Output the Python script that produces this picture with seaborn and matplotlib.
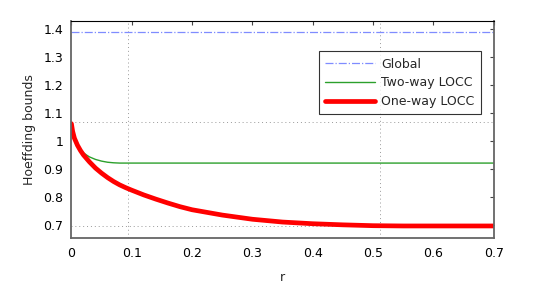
import numpy as np
import pandas as pd
import matplotlib
matplotlib.use('Agg')
import matplotlib.pyplot as plt
import seaborn as sns

# values
r_one = [0, 0.002, 0.005, 0.01, 0.015, 0.02, 0.03, 0.04, 0.05, 0.06, 0.07, 0.08, 0.09,
         0.1, 0.12, 0.14, 0.16, 0.18, 0.2, 0.25, 0.3, 0.35, 0.4, 0.45, 0.5, 0.55, 0.6, 0.7]
one_way = [1.062, 1.035, 1.01, 0.985, 0.966, 0.95, 0.925, 0.903, 0.885, 0.869, 0.855, 0.843, 0.833,
           0.824, 0.807, 0.792, 0.778, 0.765, 0.754, 0.735, 0.72, 0.71, 0.704, 0.7, 0.697, 0.696, 0.696, 0.696]
r_two = [0, 0.002, 0.005, 0.01, 0.015, 0.02, 0.025, 0.03, 0.04, 0.05, 0.06, 0.07, 0.08, 0.7]
two_way = [1.062, 1.035, 1.01, 0.987, 0.97, 0.958, 0.95, 0.943, 0.934, 0.928, 0.924, 0.922, 0.921, 0.921]
r_glob = [0, 0.7]
global_bound = [1.39, 1.39]

# dotted reference lines
ref_x = [0.093, 0.512]
ref_y = [1.067, 0.696]

sns.set_style('white')
plt.rcParams['font.family'] = ['DejaVu Sans']

fig = plt.figure(figsize=(5.45, 2.85), dpi=100)
ax = fig.add_axes([0.131, 0.164, 0.775, 0.761])

for xv in ref_x:
    ax.axvline(xv, color='#999999', ls=(0, (1, 3)), lw=0.7, zorder=0)
for yv in ref_y:
    ax.axhline(yv, color='#999999', ls=(0, (1, 3)), lw=0.7, zorder=0)

sns.lineplot(x=r_glob, y=global_bound, ax=ax, color='#7f8cff', lw=0.9,
             linestyle='-.', label='Global')
sns.lineplot(x=r_two, y=two_way, ax=ax, color='#2ca02c', lw=1.0,
             label='Two-way LOCC')
sns.lineplot(x=r_one, y=one_way, ax=ax, color='#ff0000', lw=3.4,
             label='One-way LOCC')

ax.set_xlim(0, 0.7)
ax.set_ylim(0.652, 1.428)
ax.set_xticks(np.arange(0, 0.71, 0.1))
ax.set_xticklabels(['0', '0.1', '0.2', '0.3', '0.4', '0.5', '0.6', '0.7'])
ax.set_yticks([0.7, 0.8, 0.9, 1.0, 1.1, 1.2, 1.3, 1.4])
ax.set_yticklabels(['0.7', '0.8', '0.9', '1', '1.1', '1.2', '1.3', '1.4'])
ax.tick_params(direction='in', length=3, width=0.8, colors='#444444',
               labelcolor='black', labelsize=9, top=True, right=True,
               pad=6)
ax.set_xlabel('r', fontsize=9, labelpad=8)
ax.set_ylabel('Hoeffding bounds', fontsize=9, labelpad=5)

for side in ['left', 'right', 'bottom']:
    ax.spines[side].set_color('#666666')
    ax.spines[side].set_linewidth(1.3)
ax.spines['top'].set_color('black')
ax.spines['top'].set_linewidth(0.8)

leg = ax.legend(loc='upper right', bbox_to_anchor=(0.984, 0.89), fontsize=9,
                frameon=True, fancybox=False, edgecolor='black',
                handlelength=4.0, borderpad=0.5, labelspacing=0.45,
                handletextpad=0.5)
leg.get_frame().set_linewidth(0.8)

fig.savefig('out.png', dpi=100)
